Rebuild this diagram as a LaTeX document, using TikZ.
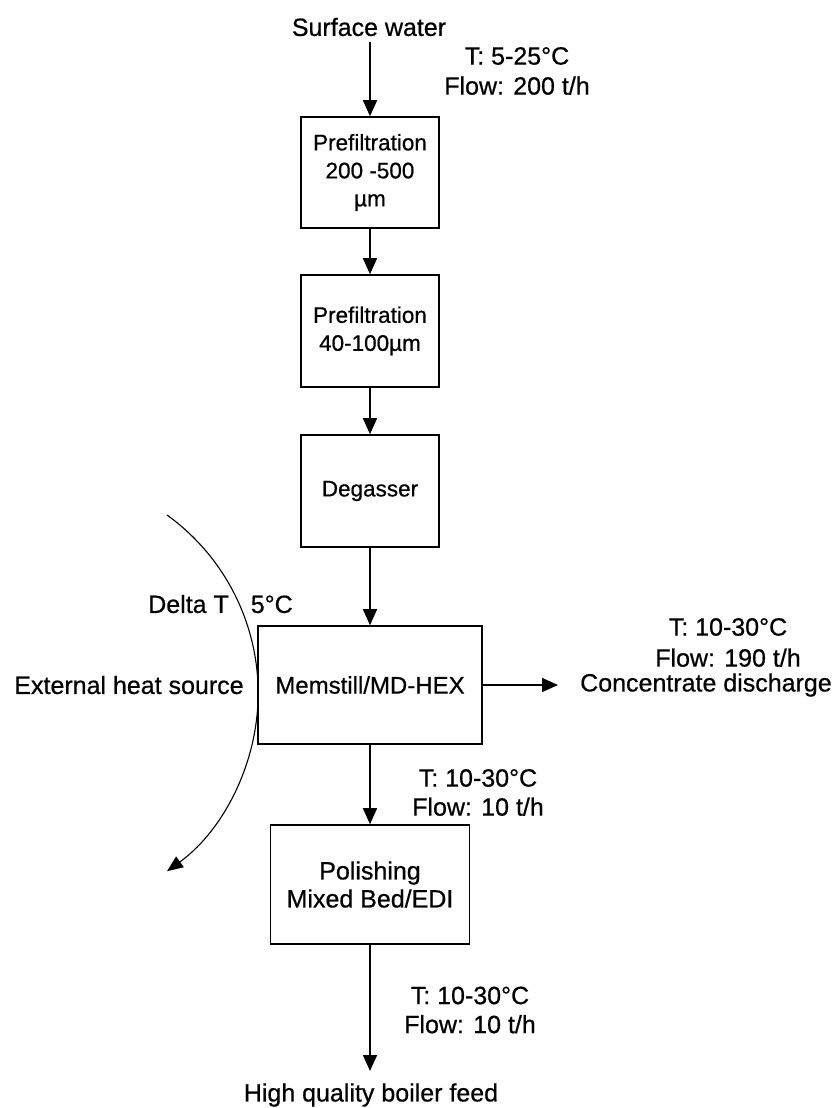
\documentclass[tikz,border=0pt]{standalone}
\usepackage{fontspec}
\setmainfont{Liberation Sans}[FakeBold=0.6]
\usetikzlibrary{arrows.meta}
\begin{document}
\begin{tikzpicture}[x=1pt,y=-1pt,
  unitbox/.style={draw, line width=1.6pt, align=center, inner sep=0pt,
    font=\fontsize{22.5}{28}\selectfont},
  flowarrow/.style={line width=1.6pt, -{Triangle[length=16pt,width=14pt]}},
  heatarrow/.style={line width=1.1pt, -{Triangle[length=16pt,width=13pt]}},
  lbl/.style={align=center, inner sep=0pt, font=\fontsize{25}{29}\selectfont}]
\useasboundingbox (0,0) rectangle (840,1108);
\fill[white] (0,0) rectangle (840,1108);

% process units
\node[unitbox, minimum width=138pt, minimum height=111pt] (pf1) at (370,172.5) {Prefiltration\\200 -500\\µm};
\node[unitbox, minimum width=138pt, minimum height=112pt] (pf2) at (370,331) {Prefiltration\\40-100µm};
\node[unitbox, minimum width=138pt, minimum height=112pt] (deg) at (370,491) {Degasser};
\node[unitbox, minimum width=224pt, minimum height=118pt, font=\fontsize{24}{28}\selectfont] (mem) at (370,685) {Memstill/MD-HEX};
\node[unitbox, minimum width=199pt, minimum height=119pt, font=\fontsize{25}{28}\selectfont] (pol) at (370,884.5) {Polishing\\Mixed Bed/EDI};

% labels
\node[lbl] (sw) at (369,27) {Surface water};
\node[lbl, font=\fontsize{25}{30}\selectfont] (in) at (517,71) {T: 5-25°C\\Flow: 200 t/h};
\node[lbl, font=\fontsize{25}{31}\selectfont] (cinfo) at (728,642.5) {T: 10-30°C\\Flow: 190 t/h};
\node[lbl] (cd) at (706,685) {Concentrate discharge};
\node[lbl] (ehs) at (129,685) {External heat source};
\node[lbl] (dt) at (220.5,604) {Delta T\hspace{22pt}5°C};
\node[lbl] (pinfo) at (478,792.5) {T: 10-30°C\\Flow: 10 t/h};
\node[lbl] (finfo) at (470,1010) {T: 10-30°C\\Flow: 10 t/h};
\node[lbl] (bf) at (371,1095) {High quality boiler feed};

% connectors
\coordinate (swb) at (370,42);
\coordinate (cdend) at (558,685);
\coordinate (bfend) at (370,1071);
\coordinate (hs) at (167,515);
\draw[flowarrow] (swb) -- (pf1.north);
\draw[flowarrow] (pf1.south) -- (pf2.north);
\draw[flowarrow] (pf2.south) -- (deg.north);
\draw[flowarrow] (deg.south) -- (mem.north);
\draw[flowarrow] (mem.east) -- (cdend);
\draw[flowarrow] (mem.south) -- (pol.north);
\draw[flowarrow] (pol.south) -- (bfend);
\draw[heatarrow] (hs) arc[start angle=54.2, end angle=-54.2, radius=219.6pt];
\end{tikzpicture}
\end{document}
